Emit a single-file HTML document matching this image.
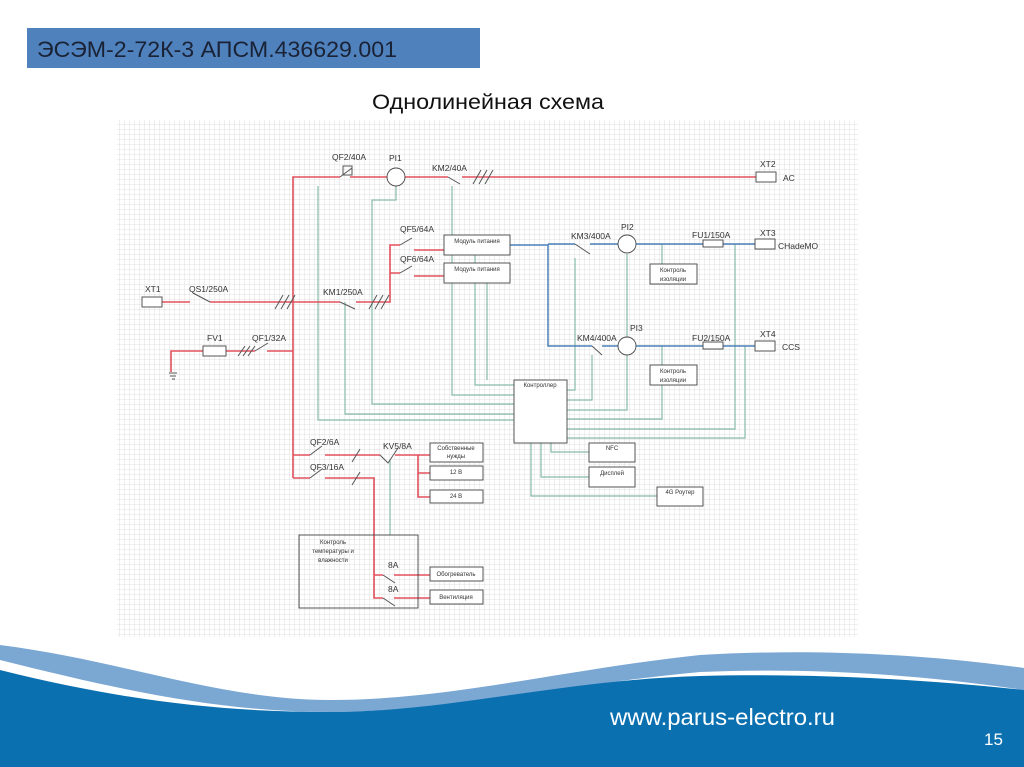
<!DOCTYPE html>
<html><head><meta charset="utf-8"><style>
html,body{margin:0;padding:0;background:#fff;width:1024px;height:767px;overflow:hidden}
svg{display:block}
text{font-family:"Liberation Sans","DejaVu Sans",sans-serif}
</style></head><body>
<svg width="1024" height="767" viewBox="0 0 1024 767" xmlns="http://www.w3.org/2000/svg">
<defs>
<pattern id="g" width="5" height="5" patternUnits="userSpaceOnUse">
<path d="M5 0V5M0 5H5" stroke="#d8d8d8" stroke-width="0.8" fill="none"/>
</pattern>
</defs>
<rect x="27" y="28" width="453" height="40" fill="#4f81bd"/>
<text x="37" y="57" font-size="22" fill="#1a2235" textLength="360" lengthAdjust="spacingAndGlyphs">ЭСЭМ-2-72К-3  АПСМ.436629.001</text>
<text x="372" y="109" font-size="21" fill="#111" textLength="232" lengthAdjust="spacingAndGlyphs">Однолинейная схема</text>
<rect x="117" y="120" width="741" height="517" fill="url(#g)"/>

<g stroke="#86bba9" stroke-width="1.2" fill="none">
<path d="M318 186V420H514"/>
<path d="M345 302V414H514"/>
<path d="M396 186V200H372V404H514"/>
<path d="M452 186V395H514"/>
<path d="M475 255V385H514"/>
<path d="M487 283V380"/>
<path d="M390 460V535"/>
<path d="M567 390H575V258"/>
<path d="M567 400H592V355"/>
<path d="M567 410H627V254"/>
<path d="M567 419H662V385"/>
<path d="M567 429H735V244"/>
<path d="M567 438H745V346"/>
<path d="M662 244V264M662 346V365"/>
<path d="M551 443V452H589"/>
<path d="M541 443V477H589"/>
<path d="M531 443V496H657"/>
</g>

<g stroke="#e2505c" stroke-width="1.6" fill="none">
<path d="M293 478V177H340M350 177H387M405 177H448M462 177H756"/>
<path d="M162 302H190M210 302H340M356 302H390V245H400M390 273H400M414 250H444M414 276H444"/>
<path d="M171 372V351H203M226 351H255M267 351H293"/>
<path d="M293 455H310M325 455H380M395 455H430M418 455V497H430M418 473H430"/>
<path d="M293 478H310M325 478H374V575H383M374 575V598H383M394 575H430M394 598H430"/>
</g>
<g stroke="#555" stroke-width="1" fill="none">
<path d="M340 177L352 168M210 302L193 293M340 302L355 309M255 351L268 343M400 245L412 238M400 273L412 266M448 177L460 184M310 455L322 446M310 478L322 469M380 455L388 463L398 448M383 575L395 583M383 598L395 606"/>
<path d="M575 244L590 254M592 346L602 355"/>
<rect x="343" y="166" width="9" height="9"/>
<path d="M473 184L481 170M479 184L487 170M485 184L493 170M275 309L283 295M281 309L289 295M287 309L295 295M369 309L377 295M375 309L383 295M381 309L389 295M238 356L245 346M243 356L250 346M248 356L255 346M352 462L360 449M352 485L360 472"/>
<path d="M169 373H177M170 376H176M172 379H175"/>
</g>
<g stroke="#4a80b8" stroke-width="1.5" fill="none">
<path d="M510 245H548V346H592M548 244H575M602 346H618M636 346H703M723 346H755M590 244H618M636 244H703M723 244H755"/>
</g>
<g stroke="#444" stroke-width="0.9" fill="#fff">
<circle cx="396" cy="177" r="9"/><circle cx="627" cy="244" r="9"/><circle cx="627" cy="346" r="9"/>
<rect x="756" y="172" width="20" height="10"/><rect x="142" y="297" width="20" height="10"/>
<rect x="755" y="239" width="20" height="10"/><rect x="755" y="341" width="20" height="10"/>
<rect x="703" y="240" width="20" height="7"/><rect x="703" y="342" width="20" height="7"/>
<rect x="203" y="346" width="23" height="10"/>
<rect x="444" y="235" width="66" height="20"/><rect x="444" y="263" width="66" height="20"/>
<rect x="650" y="264" width="47" height="20"/><rect x="650" y="365" width="47" height="20"/>
<rect x="514" y="380" width="53" height="63"/>
<rect x="589" y="443" width="46" height="19"/><rect x="589" y="467" width="46" height="20"/>
<rect x="657" y="487" width="46" height="19"/>
<rect x="430" y="443" width="53" height="19"/><rect x="430" y="466" width="53" height="14"/><rect x="430" y="490" width="53" height="13"/>
<rect x="299" y="535" width="119" height="73" fill="none"/>
<rect x="430" y="567" width="53" height="14"/><rect x="430" y="590" width="53" height="14"/>
</g>
<g font-size="8.5" fill="#333">
<text x="332" y="160">QF2/40A</text><text x="389" y="161">PI1</text><text x="432" y="171">KM2/40A</text>
<text x="760" y="167">XT2</text><text x="783" y="181">AC</text>
<text x="145" y="292">XT1</text><text x="189" y="292">QS1/250A</text><text x="323" y="295">KM1/250A</text>
<text x="400" y="232">QF5/64A</text><text x="400" y="262">QF6/64A</text>
<text x="207" y="341">FV1</text><text x="252" y="341">QF1/32A</text>
<text x="571" y="239">KM3/400A</text><text x="621" y="230">PI2</text><text x="692" y="238">FU1/150A</text>
<text x="760" y="236">XT3</text><text x="778" y="249">CHadeMO</text>
<text x="577" y="341">KM4/400A</text><text x="630" y="331">PI3</text><text x="692" y="341">FU2/150A</text>
<text x="760" y="337">XT4</text><text x="782" y="350">CCS</text>
<text x="310" y="445">QF2/6A</text><text x="310" y="470">QF3/16A</text><text x="383" y="449">KV5/8A</text>
<text x="388" y="568">8A</text><text x="388" y="592">8A</text>
</g>
<g font-size="6" fill="#333" text-anchor="middle">
<text x="477" y="243">Модуль питания</text><text x="477" y="271">Модуль питания</text>
<text x="673" y="272">Контроль</text><text x="673" y="281">изоляции</text>
<text x="673" y="373">Контроль</text><text x="673" y="382">изоляции</text>
<text x="540" y="387">Контроллер</text>
<text x="612" y="450">NFC</text><text x="612" y="475">Дисплей</text><text x="680" y="494">4G Роутер</text>
<text x="456" y="450">Собственные</text><text x="456" y="458">нужды</text>
<text x="456" y="474">12 В</text><text x="456" y="498">24 В</text>
<text x="333" y="544">Контроль</text><text x="333" y="553">температуры и</text><text x="333" y="562">влажности</text>
<text x="456" y="576">Обогреватель</text><text x="456" y="599">Вентиляция</text>
</g>

<path d="M0 645C120 660 220 700 330 700C450 700 560 670 700 655C820 648 930 655 1024 668V690C900 672 800 668 700 672C560 685 450 712 330 712C220 712 120 690 0 660Z" fill="#7ba7d3"/>
<path d="M0 670C120 700 220 712 330 712C450 712 560 680 700 676C820 673 930 680 1024 690V767H0Z" fill="#0b70b0"/>
<text x="610" y="725" font-size="23" fill="#fff" textLength="225" lengthAdjust="spacingAndGlyphs">www.parus-electro.ru</text>
<text x="984" y="745" font-size="17" fill="#fff">15</text>
</svg>
</body></html>
